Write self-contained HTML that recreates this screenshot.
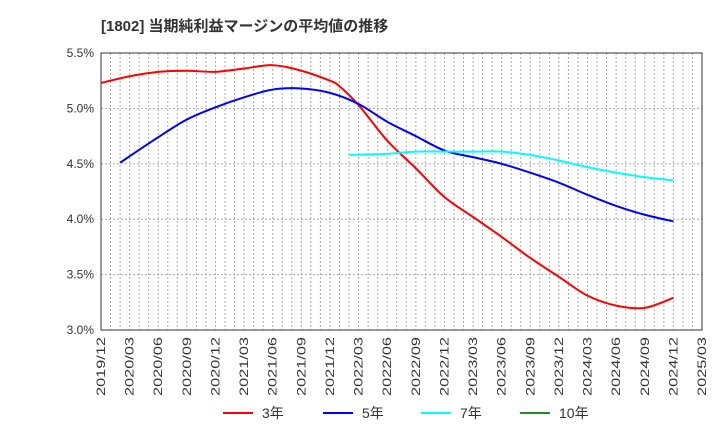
<!DOCTYPE html>
<html><head><meta charset="utf-8"><style>
body{margin:0;background:#fff;font-family:"Liberation Sans","Noto Sans CJK JP",sans-serif}
</style></head><body>
<svg id="c" width="720" height="440" xmlns="http://www.w3.org/2000/svg">
<text x="101" y="31" font-size="15" font-weight="bold" fill="#333" font-family="Liberation Sans,Noto Sans CJK JP,sans-serif">[1802]  当期純利益マージンの平均値の推移</text>
<g id="grid"></g><g id="axes"></g><g id="series"></g>
<g font-size="14" fill="#333">
<line x1="223" y1="413" x2="253" y2="413" stroke="#ff0000" stroke-width="2"/>
<text x="262" y="418">3年</text>
<line x1="323" y1="413" x2="353" y2="413" stroke="#0000ff" stroke-width="2"/>
<text x="362" y="418">5年</text>
<line x1="421" y1="413" x2="451" y2="413" stroke="#00ffff" stroke-width="2"/>
<text x="460" y="418">7年</text>
<line x1="520" y1="413" x2="550" y2="413" stroke="#228b22" stroke-width="2"/>
<text x="559" y="418">10年</text>
</g>
</svg>
<script>
const xLabels=["2019/12","2020/03","2020/06","2020/09","2020/12","2021/03","2021/06","2021/09","2021/12","2022/03","2022/06","2022/09","2022/12","2023/03","2023/06","2023/09","2023/12","2024/03","2024/06","2024/09","2024/12","2025/03"];
const yTicks=[3.0,3.5,4.0,4.5,5.0,5.5];
const months3=[0,3,6,9,12,15,18,21,24,25,27,30,33,36,39,42,45,48,51,54,57,60];
const vals3=[5.23,5.29,5.33,5.34,5.33,5.36,5.39,5.34,5.25,5.20,5.03,4.71,4.46,4.20,4.02,3.84,3.65,3.48,3.31,3.22,3.20,3.29];
const months5=[2,6,9,12,15,18,21,24,27,30,33,36,39,42,45,48,51,54,57,60];
const vals5=[4.51,4.74,4.90,5.01,5.10,5.17,5.18,5.14,5.04,4.88,4.75,4.62,4.56,4.50,4.42,4.33,4.22,4.12,4.04,3.98];
const months7=[26,30,33,36,39,42,45,48,51,54,57,60];
const vals7=[4.58,4.59,4.61,4.61,4.61,4.61,4.58,4.53,4.47,4.42,4.38,4.35];
const L=101,R=702,T=53,B=330,NM=63;
const xs=m=>L+m*(R-L)/NM, ys=v=>B-(v-3.0)*(B-T)/2.5;
const NS="http://www.w3.org/2000/svg";
function mk(t,a,p){const e=document.createElementNS(NS,t);for(const k in a)e.setAttribute(k,a[k]);p.appendChild(e);return e;}
const g=document.getElementById('grid'),ax=document.getElementById('axes'),s=document.getElementById('series');
for(let m=1;m<NM;m++){const l=mk('line',{x1:xs(m),x2:xs(m),y1:T,y2:B,stroke:'#aaa','stroke-dasharray':'2,2','stroke-width':1},g);

}
yTicks.forEach(v=>{const y=ys(v);
const l=mk('line',{x1:L,x2:R,y1:y,y2:y,stroke:'#aaa','stroke-dasharray':'2,2'},g);


const t=mk('text',{x:L-7,y:y+4,'text-anchor':'end','font-size':12,fill:'#333'},ax);t.textContent=v.toFixed(1)+'%';

});
const fr=mk('rect',{x:L,y:T,width:R-L,height:B-T,fill:'none',stroke:'#333','stroke-width':1},ax);


xLabels.forEach((lb,i)=>{const x=xs(i*3)+4,y=B+7;
const t=mk('text',{x:x,y:y,'text-anchor':'end','font-size':12,fill:'#333',textLength:59,lengthAdjust:'spacingAndGlyphs',transform:`rotate(-90 ${x} ${y})`},ax);t.textContent=lb;

});
function path(ms,vs){const p=ms.map((m,i)=>[xs(m),ys(vs[i])]);let d=`M${p[0][0]},${p[0][1]}`;
for(let i=0;i<p.length-1;i++){const p0=p[i-1]||p[i],p1=p[i],p2=p[i+1],p3=p[i+2]||p2;
d+=` C${p1[0]+(p2[0]-p0[0])/6},${p1[1]+(p2[1]-p0[1])/6} ${p2[0]-(p3[0]-p1[0])/6},${p2[1]-(p3[1]-p1[1])/6} ${p2[0]},${p2[1]}`;}return d;}
[[months3,vals3,'#ff0000','line-3y'],[months5,vals5,'#0000ff','line-5y'],[months7,vals7,'#00ffff','line-7y']].forEach(([m,v,c,n])=>{
const p=mk('path',{d:path(m,v),fill:'none',stroke:c,'stroke-width':2},s);

});
</script>
</body></html>
